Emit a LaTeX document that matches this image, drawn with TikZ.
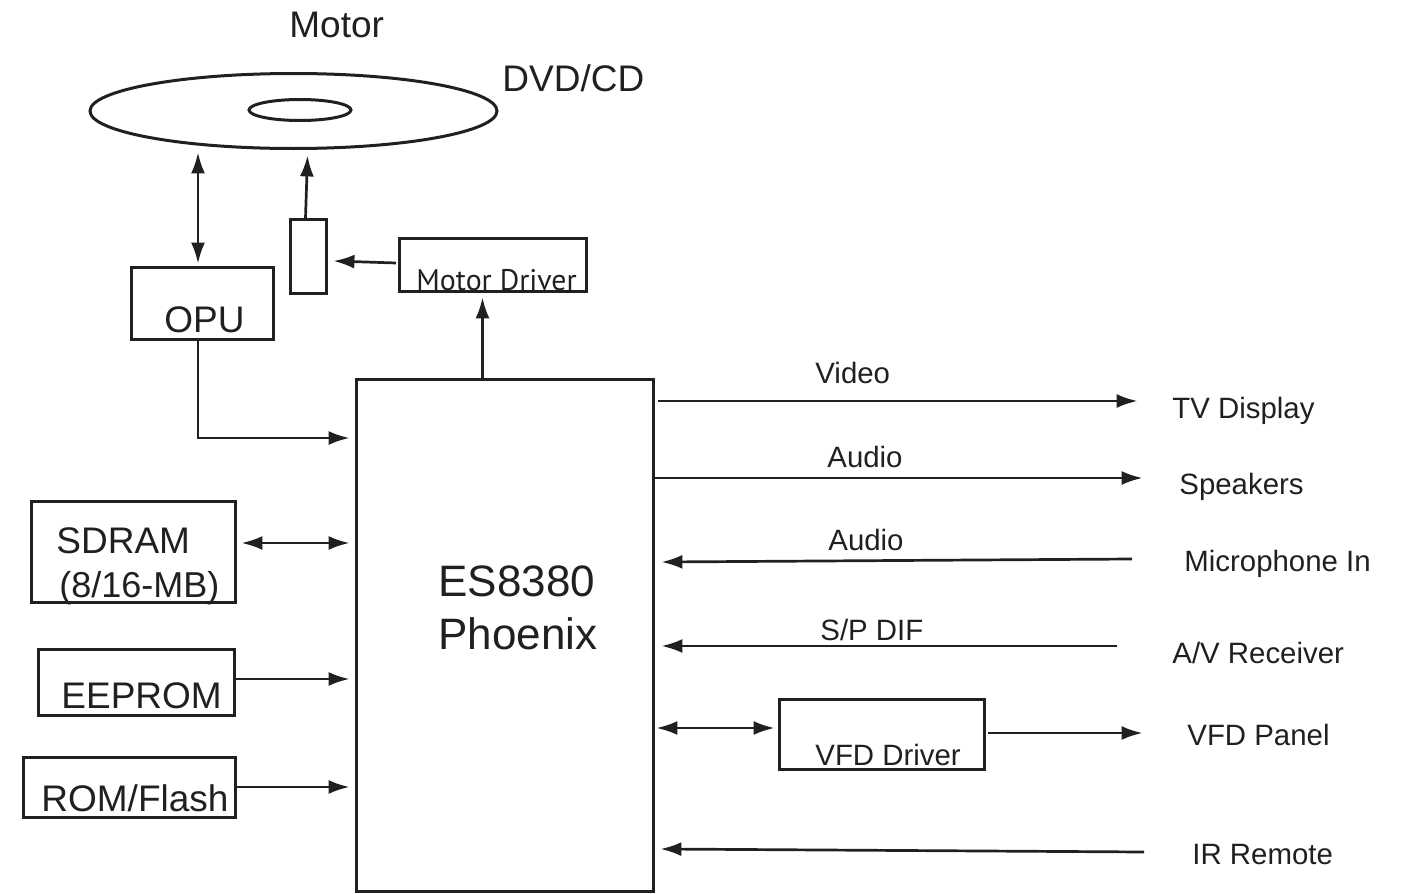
\documentclass[tikz,border=0pt]{standalone}
\usepackage{fontspec}
\setmainfont{Liberation Sans}
\newfontfamily\driverfont{PT Sans}
\usetikzlibrary{arrows.meta,shapes.geometric}
\definecolor{inkblack}{HTML}{231F20}
\tikzset{
  hwbox/.style={draw=inkblack,line width=1.5pt,inner sep=0pt},
  sig/.style={draw=inkblack,line width=1.35pt,shorten >=-0.8pt},
  bidi/.style={sig,<->,shorten <=-0.8pt},
  lbl/.style={anchor=base west,inner sep=0pt,text=inkblack},
  biglbl/.style={lbl,font=\fontsize{18.5}{20}\selectfont},
  smalllbl/.style={lbl,font=\fontsize{14.7}{16}\selectfont},
  >={Latex[length=10.5pt,width=7pt]}
}
\begin{document}
\begin{tikzpicture}[x=0.5pt,y=-0.5pt]
  \useasboundingbox (0,0) rectangle (1415,894);
  \node[hwbox,ellipse,minimum width=203.5pt,minimum height=37.5pt] (disc) at (293.5,111) {};
  \node[hwbox,ellipse,minimum width=51pt,minimum height=10.5pt] (hole) at (300,110) {};
  \node[hwbox,minimum width=71pt,minimum height=36pt] (opu) at (202.5,303.5) {};
  \node[hwbox,minimum width=18pt,minimum height=37pt] (motor) at (308.5,256.5) {};
  \node[hwbox,minimum width=93.5pt,minimum height=26.5pt] (mdrv) at (493,265) {};
  \node[hwbox,minimum width=148.5pt,minimum height=256pt] (es) at (505,635.5) {};
  \node[hwbox,minimum width=102pt,minimum height=50.5pt] (sdram) at (133.5,552) {};
  \node[hwbox,minimum width=98pt,minimum height=33pt] (eeprom) at (136.5,682.5) {};
  \node[hwbox,minimum width=106pt,minimum height=30pt] (rom) at (129.5,787.5) {};
  \node[hwbox,minimum width=102.5pt,minimum height=35pt] (vfd) at (882,734.5) {};

  \node[biglbl] (motortxt) at (289,38) {Motor};
  \node[biglbl] (disctxt) at (502,91) {DVD/CD};
  \node[biglbl] (opulbl) at (164,332) {OPU};
  \node[lbl,font=\driverfont\fontsize{14.9}{16}\selectfont] (mdrvlbl) at (416,290) {Motor Driver};
  \node[lbl,font=\fontsize{22}{24}\selectfont] (eslbla) at (438,596) {ES8380};
  \node[lbl,font=\fontsize{22}{24}\selectfont] (eslblb) at (438,649) {Phoenix};
  \node[biglbl] (sdramlbla) at (56,553) {SDRAM};
  \node[lbl,font=\fontsize{18}{20}\selectfont] (sdramlblb) at (59,597) {(8/16-MB)};
  \node[biglbl] (eepromlbl) at (61,708) {EEPROM};
  \node[biglbl] (romlbl) at (41,811) {ROM/Flash};
  \node[smalllbl] (vfdlbl) at (815,765) {VFD Driver};

  \node[smalllbl] (videotxt) at (815,383) {Video};
  \node[smalllbl] (audioout) at (827,467) {Audio};
  \node[smalllbl] (audioin) at (828,550) {Audio};
  \node[smalllbl] (spdif) at (820,640) {S/P DIF};
  \node[smalllbl] (tv) at (1172,418) {TV Display};
  \node[smalllbl] (spk) at (1179,494) {Speakers};
  \node[smalllbl] (mic) at (1184,571) {Microphone In};
  \node[smalllbl] (avr) at (1172,663) {A/V Receiver};
  \node[smalllbl] (panel) at (1187,745) {VFD Panel};
  \node[smalllbl] (ir) at (1192,864) {IR Remote};

  \coordinate (discport) at (198,154);
  \coordinate (opuport) at (198,262);
  \coordinate (spindle) at (307.5,157);
  \coordinate (motorin) at (335,261);
  \coordinate (mdrvout) at (396,263);
  \coordinate (mdrvin) at (482.5,299);
  \coordinate (opuout) at (198,340);
  \coordinate (esopu) at (348,438);
  \coordinate (esram) at (348,543);
  \coordinate (ramport) at (243,543);
  \coordinate (esrom) at (348,679);
  \coordinate (esflash) at (348,787);
  \coordinate (esvfd) at (658,728);
  \coordinate (vfdport) at (773,728);

  \draw[bidi] (discport) -- (opuport);
  \draw[sig,->] ([xshift=-1.5pt]motor.north) -- (spindle);
  \draw[sig,->] (mdrvout) -- (motorin);
  \draw[sig,->] (es.north -| mdrvin) -- (mdrvin);
  \draw[sig,->] (opuout) |- (esopu);
  \draw[bidi] (ramport) -- (esram);
  \draw[sig,->] (eeprom.east |- esrom) -- (esrom);
  \draw[sig,->] (rom.east |- esflash) -- (esflash);
  \draw[bidi] (esvfd) -- (vfdport);

  \coordinate (vfdout) at (988,733);
  \coordinate (panelin) at (1141,733);
  \draw[sig,->] (vfdout) -- (panelin);
  \coordinate (videoa) at (658,401);
  \coordinate (tvin) at (1136,401);
  \draw[sig,->] (videoa) -- (tvin);
  \coordinate (spkin) at (1141,478);
  \draw[sig,->] (es.east |- spkin) -- (spkin);
  \coordinate (micout) at (1132,559);
  \coordinate (esmic) at (663,562);
  \draw[sig,->] (micout) -- (esmic);
  \coordinate (avrout) at (1117,646);
  \coordinate (esavr) at (663,646);
  \draw[sig,->] (avrout) -- (esavr);
  \coordinate (irout) at (1144,852);
  \coordinate (esir) at (662,849);
  \draw[sig,->] (irout) -- (esir);
\end{tikzpicture}
\end{document}
